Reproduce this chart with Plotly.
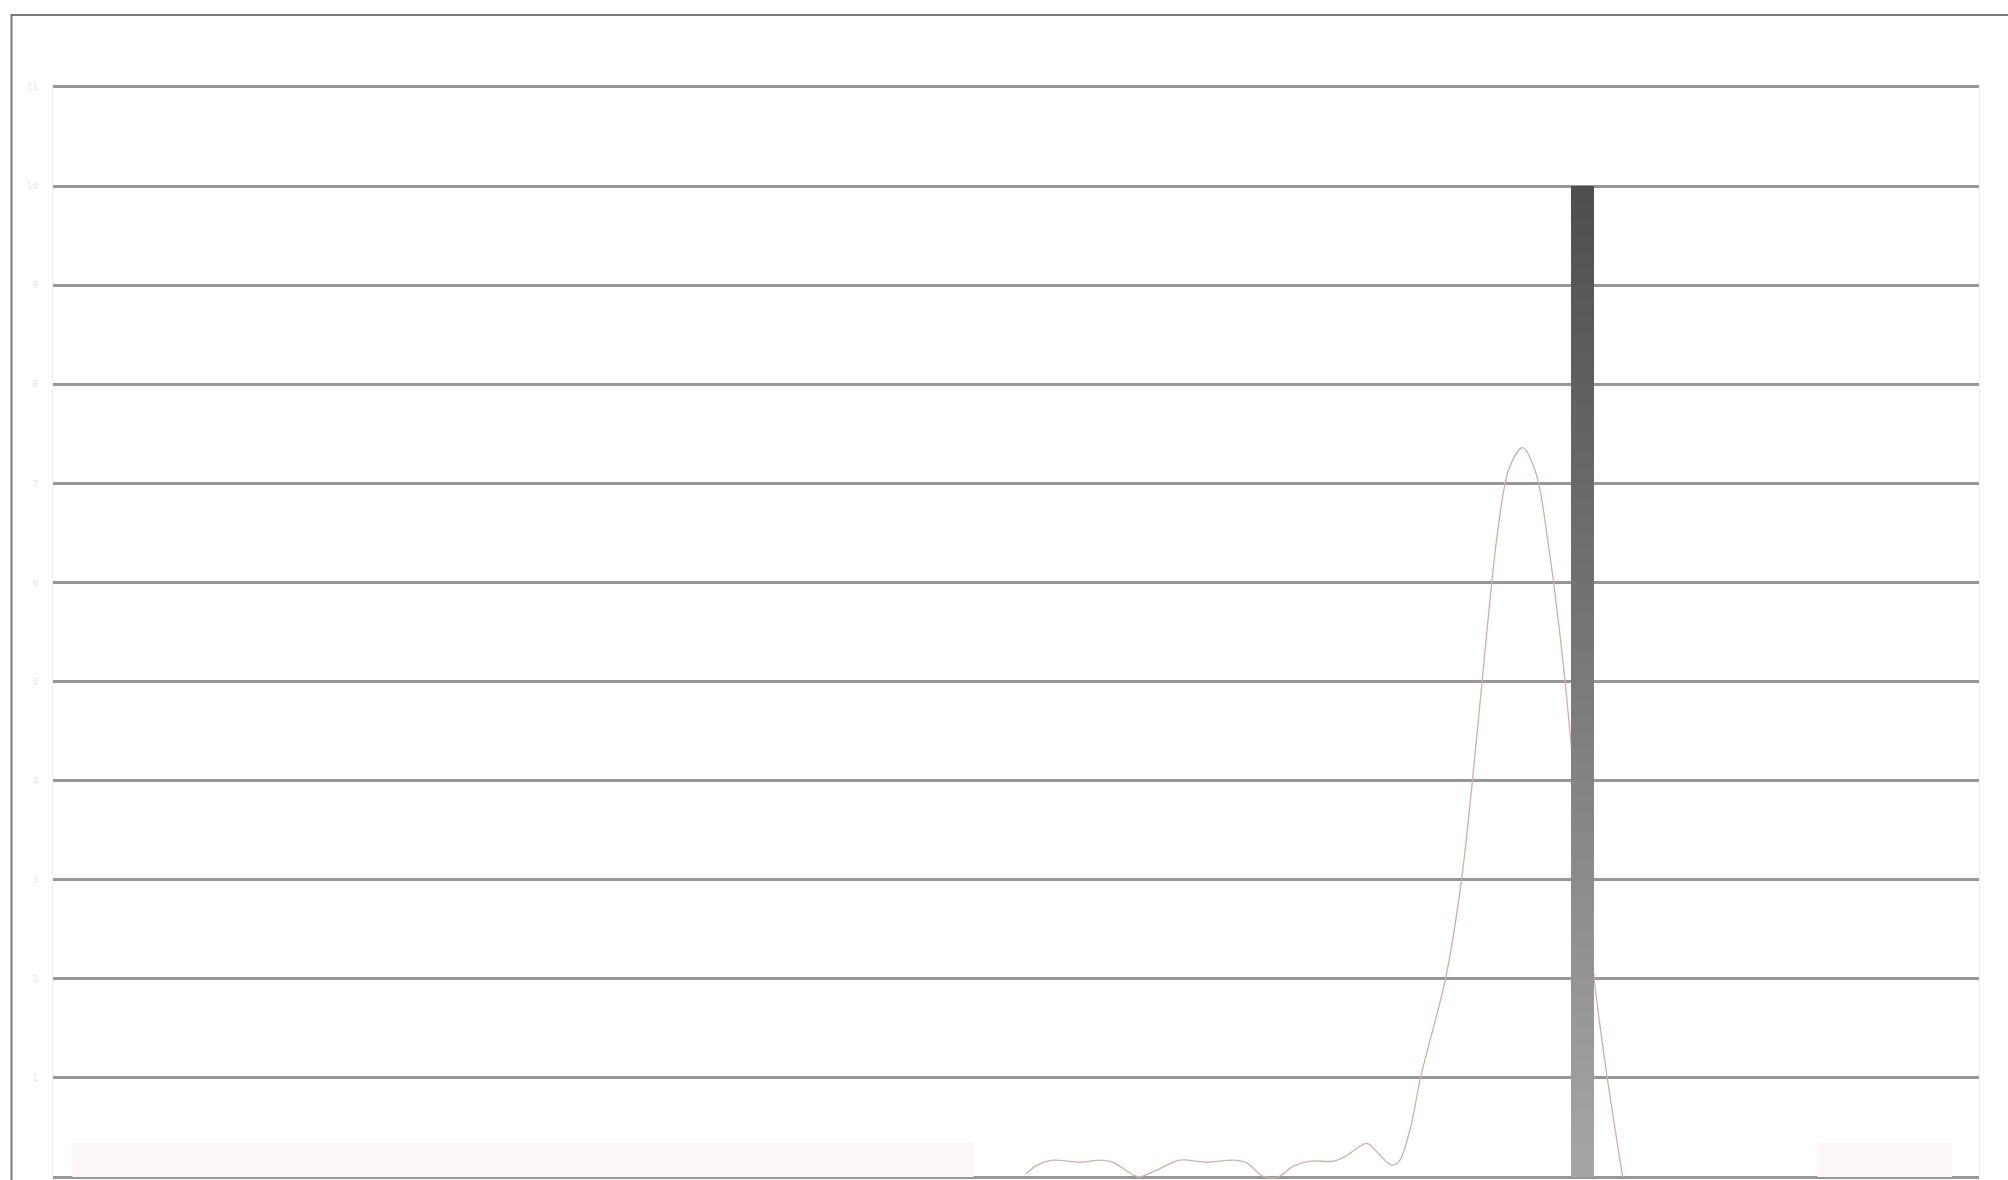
import plotly.graph_objects as go

# ---- data ----
Y_TICKS = list(range(0, 12))
Y_TICK_LABELS = [str(v) for v in Y_TICKS]

BAR_X = [79.4]
BAR_VALUE = [10]
BAR_WIDTH = 1.2

LINE_X = [50.5, 51.1, 51.9, 53.3, 54.4, 55.0, 56.1, 56.4, 57.3, 58.5, 59.9, 61.3,
          62.0, 62.8, 63.6, 64.4, 65.3, 66.5, 67.2, 68.2, 68.9, 69.5, 69.9, 70.5,
          71.0, 72.3, 73.1, 73.7, 74.2, 75.0, 75.6, 76.3, 77.0, 77.7, 78.4, 79.2,
          80.1, 80.7, 81.5]
LINE_Y = [0.03, 0.12, 0.17, 0.15, 0.17, 0.15, 0.02, 0.0, 0.07, 0.17, 0.15, 0.17,
          0.14, 0.01, 0.0, 0.11, 0.16, 0.16, 0.22, 0.34, 0.22, 0.12, 0.16, 0.51,
          1.0, 2.0, 2.95, 4.0, 5.0, 6.5, 7.15, 7.36, 7.1, 6.3, 5.2, 3.6,
          1.87, 1.0, 0.0]

BAND_LEFT_X = [1.0, 47.8]
BAND_LEFT_Y = [0.35, 0.35]
BAND_RIGHT_X = [91.6, 98.6]
BAND_RIGHT_Y = [0.35, 0.35]

# ---- figure ----
fig = go.Figure()

for bx, by in ((BAND_LEFT_X, BAND_LEFT_Y), (BAND_RIGHT_X, BAND_RIGHT_Y)):
    fig.add_trace(go.Scatter(
        x=bx, y=by, mode="lines", fill="tozeroy",
        fillcolor="#fdf6fa", line=dict(width=0), hoverinfo="skip", showlegend=False,
    ))

fig.add_trace(go.Scatter(
    x=LINE_X, y=LINE_Y, mode="lines",
    line=dict(color="#cfb0a4", width=1.3, shape="spline", smoothing=0.9),
    showlegend=False,
))

# bar with vertical gradient, drawn as stacked slices of the single bar value
N = 60
def lerp(a, b, t):
    return int(round(a + (b - a) * t))

for bx, bv in zip(BAR_X, BAR_VALUE):
    seg = bv / N
    bases = [i * seg for i in range(N)]
    colors = []
    for i in range(N):
        t = (i + 0.5) / N  # 0 bottom -> 1 top
        c = lerp(0xa6, 0x4e, t)
        colors.append(f"rgb({c},{c},{c})")
    fig.add_trace(go.Bar(
        x=[bx] * N, y=[seg] * N, base=bases, width=BAR_WIDTH,
        marker=dict(color=colors, line=dict(width=0)),
        xaxis="x", yaxis="y2", showlegend=False, hoverinfo="skip",
    ))

W, H = 2008, 1180
left, right, top, bottom = 53, 1979, 85, 1179
fig.update_layout(
    template="none",
    width=W, height=H,
    margin=dict(l=left, r=W - right, t=top, b=H - bottom, pad=0),
    paper_bgcolor="white", plot_bgcolor="white",
    bargap=0, barmode="overlay",
    xaxis=dict(range=[0, 100], showgrid=False, zeroline=False, showticklabels=False,
               showline=False, ticks="", automargin=False),
    yaxis=dict(range=[-0.02, 11.02], tickvals=Y_TICKS, ticktext=Y_TICK_LABELS,
               showgrid=True, gridcolor="#979797", gridwidth=3,
               zeroline=False, showline=True, linecolor="#f0f0f0", linewidth=1,
               mirror=True, ticks="", ticklabelstandoff=12,
               tickfont=dict(family="DejaVu Sans", size=9, color="#e4e4e4"),
               automargin=False),
    yaxis2=dict(range=[-0.02, 11.02], overlaying="y", visible=False,
                showgrid=False, zeroline=False, automargin=False),
    shapes=[dict(type="rect", xref="paper", yref="paper",
                 x0=(11.5 - left) / (right - left), x1=1.2,
                 y0=-0.2, y1=(bottom - 15) / (bottom - top),
                 line=dict(color="#7a7a7a", width=2), fillcolor="rgba(0,0,0,0)",
                 layer="below")],
)

fig.write_html("out.html",
               config={"displayModeBar": False},
               post_script="document.body.style.margin='0';document.body.style.overflow='hidden';")
